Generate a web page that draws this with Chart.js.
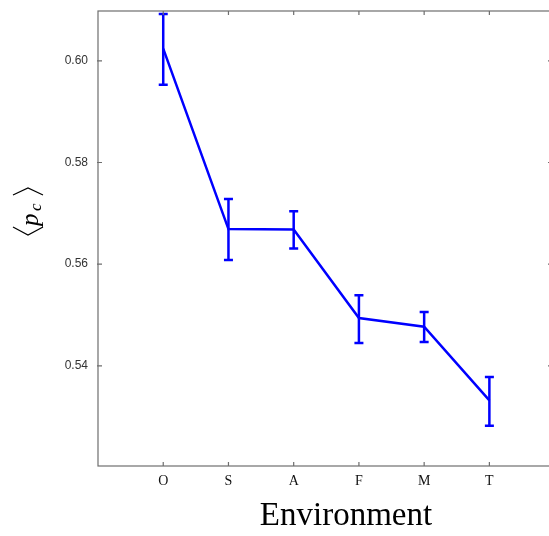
<!DOCTYPE html>
<html>
<head>
<meta charset="utf-8">
<script src="https://cdn.jsdelivr.net/npm/chart.js@4/dist/chart.umd.min.js"></script>
<style>
html,body{margin:0;padding:0;background:#fff;overflow:hidden;width:549px;height:536px;}
canvas{display:block;}
</style>
</head>
<body>
<canvas id="c" width="556" height="536" style="width:556px;height:536px;"></canvas>
<script>
// ---- data ----
const categories = ['O', 'S', 'A', 'F', 'M', 'T'];
const meanPc     = [0.6024, 0.5669, 0.5668, 0.5494, 0.5477, 0.5332];
const errUpper   = [0.6092, 0.5728, 0.5704, 0.5539, 0.5506, 0.5378];
const errLower   = [0.5953, 0.5608, 0.5631, 0.5445, 0.5447, 0.5282];
const yTickValues = [0.54, 0.56, 0.58, 0.60];
const xLabel = 'Environment';

const AXIS_COLOR = '#6e6e6e';
const BLUE = '#0000ff';

function zeroPad(scale) {
  scale.paddingTop = 0; scale.paddingBottom = 0;
  scale.paddingLeft = 0; scale.paddingRight = 0;
}

const framePlugin = {
  id: 'frame',
  afterDraw(chart) {
    const ctx = chart.ctx;
    const a = chart.chartArea;
    const xs = chart.scales.x, ys = chart.scales.y;
    ctx.save();
    ctx.strokeStyle = AXIS_COLOR;
    ctx.lineWidth = 1.2;
    ctx.strokeRect(a.left, a.top, a.right - a.left, a.bottom - a.top);
    // inward ticks
    const L = 4;
    ctx.beginPath();
    categories.forEach((c, i) => {
      const x = xs.getPixelForValue(i);
      ctx.moveTo(x, a.bottom); ctx.lineTo(x, a.bottom - L);
      ctx.moveTo(x, a.top); ctx.lineTo(x, a.top + L);
    });
    yTickValues.forEach(v => {
      const y = ys.getPixelForValue(v);
      ctx.moveTo(a.left - 1, y); ctx.lineTo(a.left + L, y);
      ctx.moveTo(a.right, y); ctx.lineTo(a.right - L, y);
    });
    ctx.stroke();
    ctx.restore();

    // x axis title
    ctx.save();
    ctx.fillStyle = '#000';
    ctx.font = '33px "Liberation Serif", serif';
    ctx.textAlign = 'center';
    ctx.textBaseline = 'alphabetic';
    ctx.fillText(xLabel, 346, 525);
    ctx.restore();

    // y axis title <p_c>, rotated
    ctx.save();
    ctx.translate(38, 211.5);
    ctx.rotate(-Math.PI / 2);
    ctx.fillStyle = '#000';
    ctx.strokeStyle = '#000';
    ctx.lineWidth = 1.2;
    // left angle bracket
    ctx.beginPath();
    ctx.moveTo(-15.5, -25); ctx.lineTo(-23.5, -10); ctx.lineTo(-15.5, 5);
    // right angle bracket
    ctx.moveTo(16.5, -25); ctx.lineTo(23.5, -10); ctx.lineTo(16.5, 5);
    ctx.stroke();
    ctx.textBaseline = 'alphabetic';
    ctx.textAlign = 'left';
    ctx.font = 'italic 25px "Liberation Serif", serif';
    ctx.fillText('p', -14.5, 0);
    ctx.font = 'italic 17px "Liberation Serif", serif';
    ctx.fillText('c', 0.5, 3);
    ctx.restore();
  }
};

const errorBarPlugin = {
  id: 'errbars',
  afterDatasetsDraw(chart) {
    const ctx = chart.ctx;
    const xs = chart.scales.x, ys = chart.scales.y;
    ctx.save();
    ctx.strokeStyle = BLUE;
    ctx.lineWidth = 2.5;
    const cap = 4.5;
    categories.forEach((c, i) => {
      const x = xs.getPixelForValue(i);
      const yt = ys.getPixelForValue(errUpper[i]);
      const yb = ys.getPixelForValue(errLower[i]);
      ctx.beginPath();
      ctx.moveTo(x, yt); ctx.lineTo(x, yb);
      ctx.moveTo(x - cap, yt); ctx.lineTo(x + cap, yt);
      ctx.moveTo(x - cap, yb); ctx.lineTo(x + cap, yb);
      ctx.stroke();
    });
    ctx.restore();
  }
};

new Chart(document.getElementById('c'), {
  type: 'line',
  data: {
    datasets: [{
      data: meanPc.map((v, i) => ({x: i, y: v})),
      borderColor: BLUE,
      borderWidth: 2.5,
      pointRadius: 0,
      tension: 0,
      fill: false
    }]
  },
  options: {
    responsive: false,
    maintainAspectRatio: false,
    devicePixelRatio: 1,
    animation: false,
    layout: {padding: {top: 11, right: 4, left: 0, bottom: 0}},
    plugins: {legend: {display: false}, tooltip: {enabled: false}},
    scales: {
      x: {
        type: 'linear',
        min: -1,
        max: 5.96,
        afterBuildTicks(scale) { scale.ticks = categories.map((c, i) => ({value: i})); },
        afterFit(scale) { scale.height = 70; zeroPad(scale); },
        ticks: {
          callback: (v) => categories[v] !== undefined ? categories[v] : '',
          font: {family: '"Liberation Serif", serif', size: 14},
          color: '#111',
          padding: 7,
          maxRotation: 0,
          autoSkip: false
        },
        grid: {drawOnChartArea: false, drawTicks: false},
        border: {display: false}
      },
      y: {
        type: 'linear',
        min: 0.5203,
        max: 0.6098,
        afterBuildTicks(scale) { scale.ticks = yTickValues.map(v => ({value: v})); },
        afterFit(scale) { scale.width = 98; zeroPad(scale); },
        ticks: {
          callback: (v) => v.toFixed(2),
          font: {family: '"Liberation Sans", Arial, sans-serif', size: 12},
          color: '#333',
          padding: 10
        },
        grid: {drawOnChartArea: false, drawTicks: false},
        border: {display: false}
      }
    }
  },
  plugins: [framePlugin, errorBarPlugin]
});
</script>
</body>
</html>
